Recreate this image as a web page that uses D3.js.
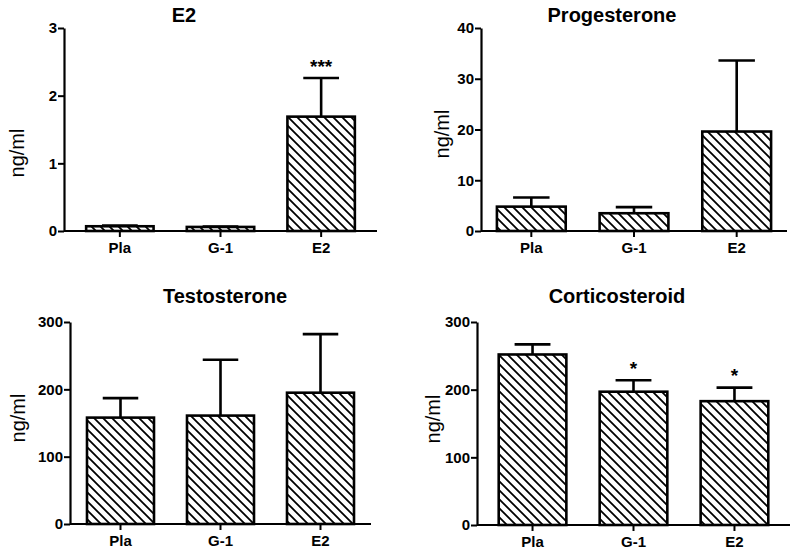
<!DOCTYPE html>
<html>
<head>
<meta charset="utf-8">
<script src="https://cdn.jsdelivr.net/npm/d3@7"></script>
<style>
  body { margin: 0; background: #fff; }
  text { font-family: "Liberation Sans", Arial, sans-serif; }
</style>
</head>
<body>
<div id="chart"></div>
<script>
// groups on the x axis
var groups = ["Pla", "G-1", "E2"];
var titles = ["E2", "Progesterone", "Testosterone", "Corticosteroid"];

// means and SEM (ng/ml)
var e2Mean = [0.07, 0.06, 1.69];
var e2Sem = [0.01, 0.005, 0.57];
var progMean = [4.8, 3.5, 19.6];
var progSem = [1.8, 1.2, 14.0];
var testMean = [158, 161, 195];
var testSem = [29, 83, 87];
var cortMean = [252, 197, 183];
var cortSem = [15, 17, 20];

// significance marks
var e2Sig = ["", "", "***"];
var progSig = ["", "", ""];
var testSig = ["", "", ""];
var cortSig = ["", "*", "*"];

// y axis ticks
var e2Ticks = [0, 1, 2, 3];
var progTicks = [0, 10, 20, 30, 40];
var testTicks = [0, 100, 200, 300];
var cortTicks = [0, 100, 200, 300];

var svg = d3.select("#chart")
    .append("svg")
    .attr("width", 800)
    .attr("height", 558);

// hatch fill
svg.append("defs")
    .append("pattern")
    .attr("id", "hatch")
    .attr("patternUnits", "userSpaceOnUse")
    .attr("width", 9)
    .attr("height", 9)
    .append("path")
    .attr("d", "M0,0 L9,9 M-2,7 L2,11 M7,-2 L11,2")
    .attr("stroke", "#000")
    .attr("stroke-width", 1.8);

// panel placement
var panels = [
    {title: titles[0], mean: e2Mean, sem: e2Sem, sig: e2Sig, ticks: e2Ticks,
     left: 64, right: 377, top: 28, bottom: 231, outer: 0.22, titleX: 184, titleY: 22, labX: 24, labY: 153},
    {title: titles[1], mean: progMean, sem: progSem, sig: progSig, ticks: progTicks,
     left: 481, right: 787, top: 28, bottom: 231, outer: 0.155, titleX: 612, titleY: 22, labX: 449, labY: 134},
    {title: titles[2], mean: testMean, sem: testSem, sig: testSig, ticks: testTicks,
     left: 70, right: 371, top: 322, bottom: 524, outer: 0.17, titleX: 225, titleY: 303, labX: 25, labY: 418},
    {title: titles[3], mean: cortMean, sem: cortSem, sig: cortSig, ticks: cortTicks,
     left: 477, right: 790, top: 322, bottom: 525, outer: 0.215, titleX: 617, titleY: 303, labX: 440, labY: 419}
];

panels.forEach(function(p) {
    var g = svg.append("g");

    var x = d3.scaleBand()
        .domain(groups)
        .range([p.left, p.right])
        .paddingInner(0.33)
        .paddingOuter(p.outer);

    var y = d3.scaleLinear()
        .domain([0, d3.max(p.ticks)])
        .range([p.bottom, p.top]);

    var data = groups.map(function(d, i) {
        return {name: d, mean: p.mean[i], sem: p.sem[i], sig: p.sig[i]};
    });

    // error bars (drawn first so bar covers the stem)
    var capW = x.bandwidth() * 0.53;
    g.selectAll(".stem")
        .data(data)
        .enter().append("line")
        .attr("x1", function(d) { return x(d.name) + x.bandwidth() / 2; })
        .attr("x2", function(d) { return x(d.name) + x.bandwidth() / 2; })
        .attr("y1", function(d) { return y(d.mean); })
        .attr("y2", function(d) { return y(d.mean + d.sem); })
        .attr("stroke", "#000")
        .attr("stroke-width", 2.6);
    g.selectAll(".cap")
        .data(data)
        .enter().append("line")
        .attr("x1", function(d) { return x(d.name) + x.bandwidth() / 2 - capW / 2; })
        .attr("x2", function(d) { return x(d.name) + x.bandwidth() / 2 + capW / 2; })
        .attr("y1", function(d) { return y(d.mean + d.sem); })
        .attr("y2", function(d) { return y(d.mean + d.sem); })
        .attr("stroke", "#000")
        .attr("stroke-width", 2.6);

    // bars
    g.selectAll("rect")
        .data(data)
        .enter().append("rect")
        .attr("x", function(d) { return x(d.name); })
        .attr("y", function(d) { return y(d.mean); })
        .attr("width", x.bandwidth())
        .attr("height", function(d) { return p.bottom - y(d.mean); })
        .attr("fill", "url(#hatch)")
        .attr("stroke", "#000")
        .attr("stroke-width", 2.6);

    // stars
    g.selectAll(".sig")
        .data(data)
        .enter().append("text")
        .attr("x", function(d) { return x(d.name) + x.bandwidth() / 2; })
        .attr("y", function(d) { return y(d.mean + d.sem) - 5.5; })
        .attr("text-anchor", "middle")
        .style("font-size", "19px")
        .style("font-weight", "bold")
        .text(function(d) { return d.sig; });

    // axes
    var yAxis = g.append("g")
        .attr("transform", "translate(" + p.left + ",0)")
        .call(d3.axisLeft(y).tickValues(p.ticks).tickFormat(d3.format("d"))
            .tickSize(6).tickPadding(1).tickSizeOuter(0));
    var xAxis = g.append("g")
        .attr("transform", "translate(0," + p.bottom + ")")
        .call(d3.axisBottom(x).tickSize(6).tickPadding(5).tickSizeOuter(0));

    [yAxis, xAxis].forEach(function(a) {
        a.select(".domain").attr("stroke", "#000").attr("stroke-width", 2.2);
        a.selectAll(".tick line").attr("stroke", "#000").attr("stroke-width", 2);
        a.selectAll("text")
            .attr("fill", "#000")
            .style("font-size", "15px")
            .style("font-weight", "bold")
            .style("font-family", "Liberation Sans, Arial, sans-serif");
    });
    // x axis line spans full width
    xAxis.select(".domain").attr("d", "M" + p.left + ",0H" + p.right);

    // title
    g.append("text")
        .attr("x", p.titleX)
        .attr("y", p.titleY)
        .attr("text-anchor", "middle")
        .style("font-size", "20px")
        .style("font-weight", "bold")
        .text(p.title);

    // y label
    g.append("text")
        .attr("transform", "translate(" + p.labX + "," + p.labY + ")rotate(-90)")
        .attr("text-anchor", "middle")
        .style("font-size", "20px")
        .text("ng/ml");
});
</script>
</body>
</html>
